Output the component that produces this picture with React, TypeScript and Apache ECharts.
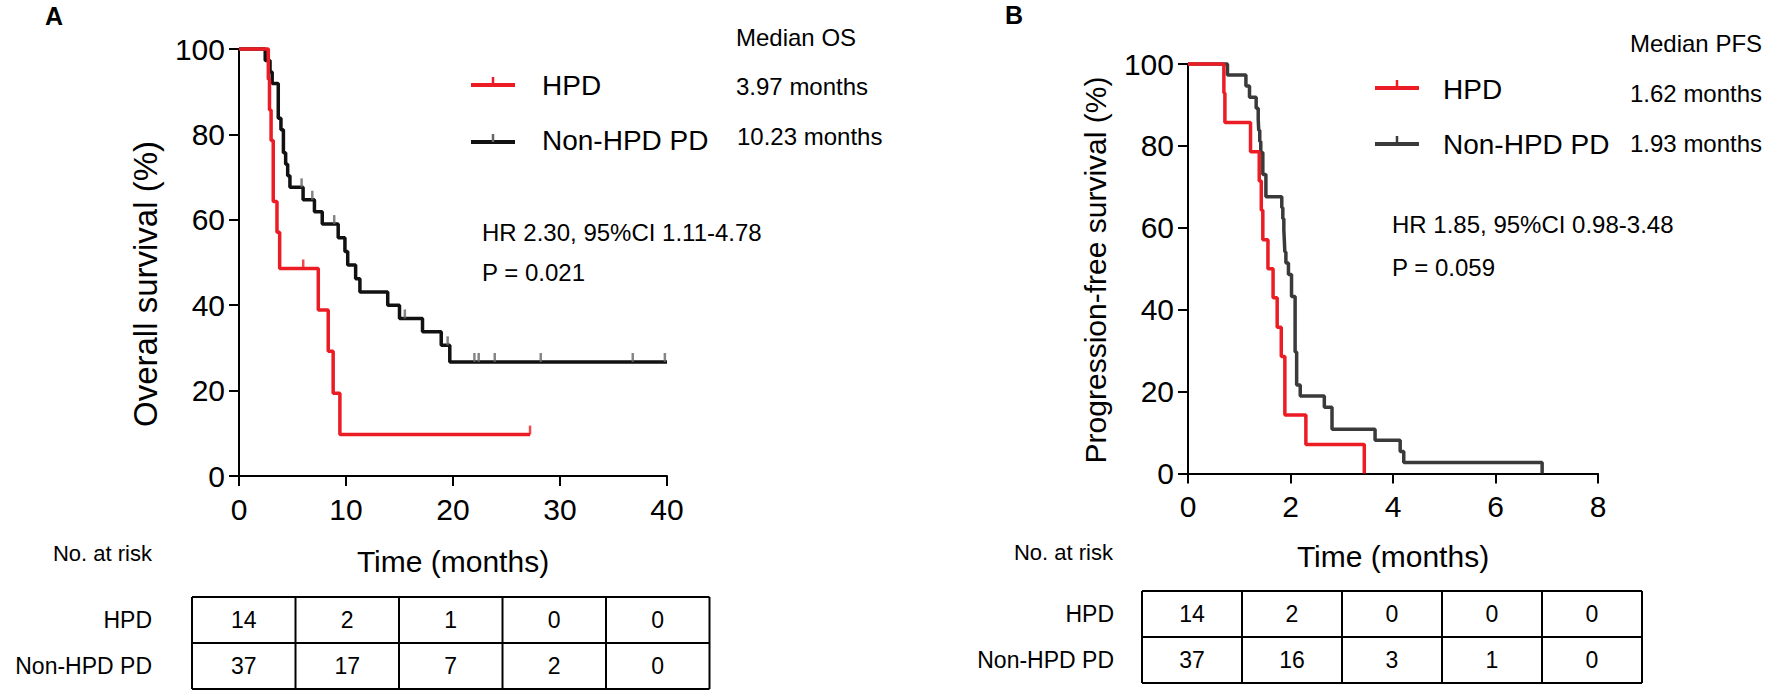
import React, { useEffect, useRef } from "react";
import * as echarts from "echarts";

// ---------- DATA ----------
// Panel A: overall survival (months, %)
const osHpd: [number, number][] = [
  [0, 100], [2.74, 92.9], [2.85, 85.7], [3.0, 78.6], [3.2, 64.3], [3.55, 57.1], [3.8, 48.6],
  [7.41, 38.9], [8.34, 29.2], [8.8, 19.4], [9.43, 9.7], [27.2, 9.7],
];
const osHpdCensor: [number, number][] = [[6.0, 48.6], [27.2, 9.7]];
const osNon: [number, number][] = [
  [0, 100], [2.45, 97.3], [2.9, 94.6], [3.1, 91.9], [3.67, 83.8], [3.92, 81.1], [4.15, 75.7],
  [4.36, 73.0], [4.55, 70.3], [4.76, 67.6], [5.99, 64.7], [7.05, 61.9], [7.78, 59.0], [9.27, 55.8],
  [9.9, 52.6], [10.16, 49.4], [10.9, 46.2], [11.3, 43.1], [13.9, 40.0], [15.0, 36.9], [17.15, 33.8],
  [18.9, 30.6], [19.7, 26.7], [40, 26.7],
];
const osNonCensor: [number, number][] = [
  [5.85, 67.6], [6.85, 64.7], [8.9, 59.0], [15.5, 36.9], [19.5, 30.6], [22.0, 26.7], [22.4, 26.7],
  [23.9, 26.7], [28.2, 26.7], [36.8, 26.7], [39.8, 26.7],
];
// Panel B: progression-free survival
const pfsHpd: [number, number][] = [
  [0, 100], [0.7, 92.9], [0.72, 85.7], [1.22, 78.6], [1.39, 71.4], [1.43, 64.3], [1.46, 57.1],
  [1.56, 50.0], [1.66, 42.9], [1.74, 35.7], [1.82, 28.6], [1.89, 14.3], [2.3, 7.1], [3.44, 0],
];
const pfsNon: [number, number][] = [
  [0, 100], [0.77, 97.3], [1.13, 94.6], [1.2, 91.9], [1.33, 89.2], [1.37, 86.5], [1.38, 83.8],
  [1.4, 81.1], [1.42, 78.4], [1.46, 73.0], [1.52, 67.6], [1.83, 64.9], [1.85, 62.2], [1.87, 59.5],
  [1.88, 56.8], [1.89, 54.1], [1.91, 51.4], [1.96, 48.6], [2.02, 43.2], [2.09, 29.7], [2.12, 21.6],
  [2.19, 18.9], [2.66, 16.2], [2.81, 10.8], [3.65, 8.1], [4.14, 5.4], [4.21, 2.7], [6.91, 0],
];
// Number at risk
const riskGroups = ["HPD", "Non-HPD PD"];
const riskHpdA = [14, 2, 1, 0, 0];
const riskNonA = [37, 17, 7, 2, 0];
const riskHpdB = [14, 2, 0, 0, 0];
const riskNonB = [37, 16, 3, 1, 0];

const RED = "#ec1c24";
const BLACK_A = "#111111";
const BLACK_B = "#3a3a3a";
const FONT = "'Liberation Sans', Arial, sans-serif";

const W = 1772;
const H = 692;

function txt(x: number, y: number, text: string, size: number, align = "left", weight = "normal", rotation = 0) {
  return {
    type: "text",
    x,
    y,
    rotation,
    style: { text, fontSize: size, fontFamily: FONT, fill: "#000", align, verticalAlign: "middle", fontWeight: weight },
  };
}

function legendItem(x1: number, x2: number, y: number, color: string, tickColor: string) {
  return [
    { type: "line", shape: { x1, y1: y, x2, y2: y }, style: { stroke: color, lineWidth: 4 } },
    { type: "line", shape: { x1: (x1 + x2) / 2, y1: y - 8, x2: (x1 + x2) / 2, y2: y }, style: { stroke: tickColor, lineWidth: 2.5 } },
  ];
}

function table(left: number, top: number, colW: number, rowH: number, rows: number[][], labelRight: number) {
  const els: any[] = [];
  const n = rows[0].length;
  const right = left + colW * n;
  const bottom = top + rowH * rows.length;
  for (let r = 0; r <= rows.length; r++) {
    els.push({ type: "line", shape: { x1: left, y1: top + r * rowH, x2: right, y2: top + r * rowH }, style: { stroke: "#000", lineWidth: 2 } });
  }
  for (let c = 0; c <= n; c++) {
    els.push({ type: "line", shape: { x1: left + c * colW, y1: top, x2: left + c * colW, y2: bottom }, style: { stroke: "#000", lineWidth: 2 } });
  }
  rows.forEach((row, r) => {
    els.push(txt(labelRight, top + r * rowH + rowH / 2, riskGroups[r], 23, "right"));
    row.forEach((v, c) => {
      els.push(txt(left + c * colW + colW / 2, top + r * rowH + rowH / 2, String(v), 23, "center"));
    });
  });
  return els;
}

function axisCommon() {
  return {
    axisLine: { show: true, lineStyle: { color: "#000", width: 2 } },
    axisTick: { show: true, length: 10, lineStyle: { color: "#000", width: 2 } },
    splitLine: { show: false },
    axisLabel: { color: "#000", fontSize: 30, fontFamily: FONT },
    nameTextStyle: { color: "#000", fontSize: 30, fontFamily: FONT },
  };
}

export default function App() {
  const ref = useRef<HTMLDivElement>(null);
  useEffect(() => {
    if (!ref.current) return;
    const chart = echarts.init(ref.current, undefined, { renderer: "svg", width: W, height: H });
    const censorSeries = (data: [number, number][], color: string, xi: number) => ({
      type: "scatter",
      xAxisIndex: xi,
      yAxisIndex: xi,
      data,
      symbol: "rect",
      symbolSize: [2.5, 9],
      symbolOffset: [0, -4.5],
      itemStyle: { color },
      z: 4,
      silent: true,
    });
    const stepSeries = (data: [number, number][], color: string, xi: number, z: number) => ({
      type: "line",
      step: "end",
      xAxisIndex: xi,
      yAxisIndex: xi,
      data,
      symbol: "none",
      clip: false,
      lineStyle: { color, width: 3.5 },
      z,
      silent: true,
    });
    const option: any = {
      animation: false,
      backgroundColor: "#fff",
      textStyle: { fontFamily: FONT },
      grid: [
        { left: 239, top: 49, width: 428, height: 427 },
        { left: 1188, top: 64, width: 410, height: 409.5 },
      ],
      xAxis: [
        {
          ...axisCommon(), gridIndex: 0, type: "value", min: 0, max: 40, interval: 10,
          name: "Time (months)", nameLocation: "middle", nameGap: 70,
          axisLabel: { ...axisCommon().axisLabel, margin: 18 },
        },
        {
          ...axisCommon(), gridIndex: 1, type: "value", min: 0, max: 8, interval: 2,
          name: "Time (months)", nameLocation: "middle", nameGap: 68,
          axisLabel: { ...axisCommon().axisLabel, margin: 18 },
        },
      ],
      yAxis: [
        {
          ...axisCommon(), gridIndex: 0, type: "value", min: 0, max: 100, interval: 20,
          axisLabel: { ...axisCommon().axisLabel, margin: 14 },
        },
        {
          ...axisCommon(), gridIndex: 1, type: "value", min: 0, max: 100, interval: 20,
          axisLabel: { ...axisCommon().axisLabel, margin: 14 },
        },
      ],
      series: [
        stepSeries(osNon, BLACK_A, 0, 2),
        censorSeries(osNonCensor, "#666", 0),
        stepSeries(osHpd, RED, 0, 3),
        censorSeries(osHpdCensor, RED, 0),
        stepSeries(pfsNon, BLACK_B, 1, 2),
        stepSeries(pfsHpd, RED, 1, 3),
      ],
      graphic: [
        txt(45, 16, "A", 25, "left", "bold"),
        txt(145, 284, "Overall survival (%)", 33, "center", "normal", Math.PI / 2),
        txt(736, 37, "Median OS", 24),
        txt(736, 86, "3.97 months", 24),
        txt(737, 136, "10.23 months", 24),
        ...legendItem(471, 515, 85, RED, RED),
        txt(542, 85, "HPD", 28),
        ...legendItem(471, 515, 142, BLACK_A, "#666"),
        txt(542, 140, "Non-HPD PD", 28),
        txt(482, 232, "HR 2.30, 95%CI 1.11-4.78", 24),
        txt(482, 272, "P = 0.021", 24),
        txt(152, 553, "No. at risk", 22, "right"),
        ...table(192, 597, 103.5, 46, [riskHpdA, riskNonA], 152),

        txt(1005, 15, "B", 25, "left", "bold"),
        txt(1095, 270, "Progression-free survival (%)", 30, "center", "normal", Math.PI / 2),
        txt(1630, 43, "Median PFS", 24),
        txt(1630, 93, "1.62 months", 24),
        txt(1630, 143, "1.93 months", 24),
        ...legendItem(1375, 1419, 88, RED, RED),
        txt(1443, 89, "HPD", 28),
        ...legendItem(1375, 1419, 144, BLACK_B, BLACK_B),
        txt(1443, 144, "Non-HPD PD", 28),
        txt(1392, 224, "HR 1.85, 95%CI 0.98-3.48", 24),
        txt(1392, 267, "P = 0.059", 24),
        txt(1113, 552, "No. at risk", 22, "right"),
        ...table(1142, 591, 100, 46, [riskHpdB, riskNonB], 1114),
      ],
    };
    chart.setOption(option);
    return () => chart.dispose();
  }, []);
  return (
    <div
      ref={ref}
      style={{ position: "absolute", left: 0, top: 0, width: W, height: H, background: "#fff" }}
    />
  );
}
